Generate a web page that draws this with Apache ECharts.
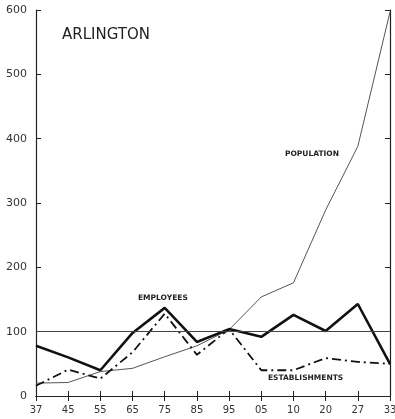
<!DOCTYPE html>
<html><head><meta charset="utf-8">
<script src="https://cdn.jsdelivr.net/npm/echarts@6/dist/echarts.min.js"></script>
<style>html,body{margin:0;padding:0;background:#fff}#c{width:395px;height:419px}</style>
</head><body><div id="c"></div>
<script>
const years = ['37','45','55','65','75','85','95','05','10','20','27','33'];
const population = [20, 21, 38, 43, 61, 78, 103, 154, 176, 289, 388, 597];
const employees = [78, 60, 40, 98, 137, 84, 104, 92, 126, 101, 143, 50];
const establishments = [16, 41, 27, 68, 128, 64, 104, 40, 40, 59, 53, 50];
const yTicks = [0, 100, 200, 300, 400, 500, 600];
const baseLine = 100;

const chart = echarts.init(document.getElementById('c'), null, {renderer: 'canvas'});
const ink = '#222';
const axisCommon = {
  axisLine: {show: true, lineStyle: {color: ink, width: 1.2}},
  axisTick: {show: true, inside: true, length: 5, lineStyle: {color: ink, width: 1}},
  splitLine: {show: false}
};
chart.setOption({
  animation: false,
  backgroundColor: '#fff',
  grid: {left: 36, right: 5, top: 10, bottom: 23, containLabel: false, outerBoundsMode: 'none'},
  xAxis: [
    Object.assign({type: 'category', data: years, boundaryGap: false, position: 'bottom',
      axisLabel: {color: '#333', fontSize: 10, margin: 9, fontFamily: 'DejaVu Sans'}}, axisCommon),
    Object.assign({type: 'category', data: years, boundaryGap: false, position: 'top',
      axisLabel: {show: false}}, axisCommon)
  ],
  yAxis: [
    Object.assign({type: 'value', min: 0, max: 600, interval: 100, position: 'left',
      axisLabel: {color: '#333', fontSize: 11, margin: 9, fontFamily: 'DejaVu Sans',
        formatter: v => yTicks.includes(v) ? String(v) : ''}}, axisCommon),
    Object.assign({type: 'value', min: 0, max: 600, interval: 100, position: 'right',
      axisLabel: {show: false}}, axisCommon)
  ],
  series: [
    {name: 'Population', type: 'line', data: population, symbol: 'none',
      lineStyle: {color: '#555', width: 1},
      markLine: {silent: true, symbol: 'none', label: {show: false},
        lineStyle: {color: '#444', width: 1, type: 'solid'}, data: [{yAxis: baseLine}]}},
    {name: 'Employees', type: 'line', data: employees, symbol: 'none',
      lineStyle: {color: '#111', width: 2.6}},
    {name: 'Establishments', type: 'line', data: establishments, symbol: 'none',
      lineStyle: {color: '#111', width: 1.8, type: [9, 4, 2, 4]}}
  ],
  graphic: [
    {type: 'text', left: 62, top: 28, style: {text: 'ARLINGTON', font: '15px "DejaVu Sans"', fill: '#222'}},
    {type: 'text', left: 285, top: 150, style: {text: 'POPULATION', font: 'bold 7.5px "DejaVu Sans"', fill: '#222'}},
    {type: 'text', left: 138, top: 294, style: {text: 'EMPLOYEES', font: 'bold 7.5px "DejaVu Sans"', fill: '#222'}},
    {type: 'text', left: 268, top: 374, style: {text: 'ESTABLISHMENTS', font: 'bold 7.5px "DejaVu Sans"', fill: '#222'}}
  ]
});
</script></body></html>
